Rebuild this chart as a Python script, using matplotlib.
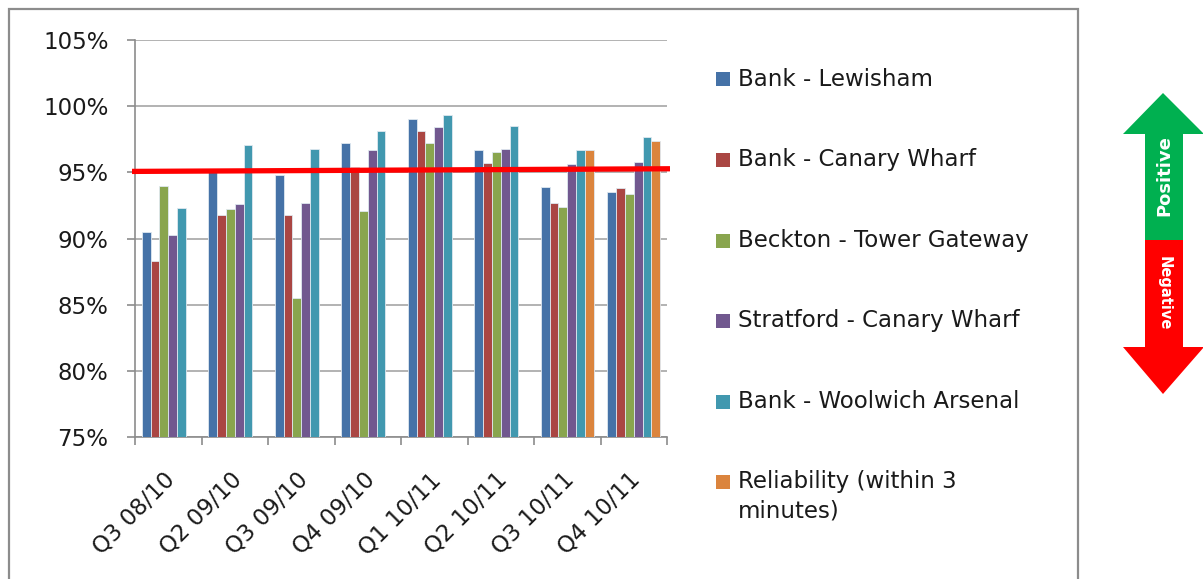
import numpy as np
import matplotlib
matplotlib.use("Agg")
import matplotlib.pyplot as plt
import matplotlib.transforms as mtransforms
from matplotlib.patches import Rectangle, Polygon
from matplotlib.ticker import FuncFormatter

QUARTERS = ["Q3 08/10", "Q2 09/10", "Q3 09/10", "Q4 09/10",
            "Q1 10/11", "Q2 10/11", "Q3 10/11", "Q4 10/11"]

BANK_LEWISHAM   = [90.5, 95.0, 94.8, 97.2, 99.0, 96.7, 93.9, 93.5]
BANK_CANARY     = [88.3, 91.8, 91.8, 95.4, 98.1, 95.7, 92.7, 93.8]
BECKTON_TOWER   = [94.0, 92.2, 85.5, 92.1, 97.2, 96.5, 92.4, 93.4]
STRATFORD_CW    = [90.3, 92.6, 92.7, 96.7, 98.4, 96.8, 95.6, 95.8]
BANK_WOOLWICH   = [92.3, 97.1, 96.8, 98.1, 99.3, 98.5, 96.7, 97.7]
RELIABILITY     = [np.nan] * 6 + [96.7, 97.4]

SERIES_NAMES = ["Bank - Lewisham", "Bank - Canary Wharf", "Beckton - Tower Gateway",
                "Stratford - Canary Wharf", "Bank - Woolwich Arsenal",
                "Reliability (within 3\nminutes)"]
COLORS = ["#4572A7", "#AA4643", "#89A54E", "#71588F", "#4198AF", "#DB843D"]

TARGET_LINE = [95.07, 95.27]   # hand-drawn target line, left end / right end

W, H = 1203, 579
fig = plt.figure(figsize=(W / 100, H / 100), dpi=100)
fig.patch.set_facecolor("white")

def fx(px):
    return px / W

def fy(py):
    return 1 - py / H

ax = fig.add_axes([fx(135), fy(437), fx(667) - fx(135), fy(40) - fy(437)])

series = [BANK_LEWISHAM, BANK_CANARY, BECKTON_TOWER, STRATFORD_CW, BANK_WOOLWICH, RELIABILITY]
x = np.arange(len(QUARTERS))
n = len(series)
bw = 0.8 / n
for i, (vals, col) in enumerate(zip(series, COLORS)):
    ax.bar(x + (i - (n - 1) / 2) * bw, vals, width=bw, color=col,
           edgecolor="#dfe8f0", linewidth=0.6, zorder=3)

# target line across the plot
ax.plot([-0.545, 7.545], TARGET_LINE, color="#ff0000", lw=3.8,
        solid_capstyle="butt", zorder=5, clip_on=False)

ax.set_xlim(-0.5, len(QUARTERS) - 0.5)
ax.set_ylim(75, 105)
ax.set_yticks(np.arange(75, 106, 5))
ax.yaxis.set_major_formatter(FuncFormatter(lambda v, _: f"{v:.0f}%"))
ax.yaxis.grid(True, color="#a6a6a6", lw=1.2, zorder=0)

ax.set_xticks(x)
ax.set_xticklabels(QUARTERS, rotation=45, ha="right", rotation_mode="anchor")
ax.set_xticks(np.arange(-0.5, len(QUARTERS)), minor=True)
ax.tick_params(axis="x", which="major", length=0, pad=16, labelsize=16.5,
               labelcolor="#1a1a1a")
ax.tick_params(axis="x", which="minor", length=6, width=1.2, color="#8c8c8c",
               direction="out")
ax.tick_params(axis="y", length=6, width=1.2, color="#8c8c8c", pad=13,
               labelsize=16.5, labelcolor="#1a1a1a")

# nudge the slanted labels down/left a little
shift = mtransforms.ScaledTranslation(-5 / 100, -9 / 100, fig.dpi_scale_trans)
for lab in ax.get_xticklabels():
    lab.set_transform(lab.get_transform() + shift)

for side in ["top", "right"]:
    ax.spines[side].set_visible(False)
for side in ["left", "bottom"]:
    ax.spines[side].set_color("#8c8c8c")
    ax.spines[side].set_linewidth(1.2)

# legend, drawn by hand
leg_y = [79, 160, 241, 321, 402, 482]
for name, col, yy in zip(SERIES_NAMES, COLORS, leg_y):
    fig.add_artist(Rectangle((fx(716), fy(yy + 7)), fx(14), 14 / H,
                             facecolor=col, edgecolor="none"))
    if "\n" in name:
        fig.text(fx(738), fy(yy - 12), name, ha="left", va="top",
                 fontsize=16.5, color="#1a1a1a", linespacing=1.35)
    else:
        fig.text(fx(738), fy(yy), name, ha="left", va="center",
                 fontsize=16.5, color="#1a1a1a")

# chart frame
fig.add_artist(Rectangle((fx(9), fy(600)), fx(1078) - fx(9), (600 - 9) / H,
                         facecolor="none", edgecolor="#8c8c8c", lw=1.6,
                         clip_on=False))

# positive / negative arrow
up = [(1145, 240), (1145, 134), (1123, 134), (1163, 93), (1204, 134),
      (1183, 134), (1183, 240)]
down = [(1145, 240), (1145, 347), (1123, 347), (1163, 394), (1204, 347),
        (1183, 347), (1183, 240)]
fig.add_artist(Polygon([(fx(a), fy(b)) for a, b in up], closed=True,
                       facecolor="#00b050", edgecolor="none"))
fig.add_artist(Polygon([(fx(a), fy(b)) for a, b in down], closed=True,
                       facecolor="#ff0000", edgecolor="none"))
fig.text(fx(1164), fy(176), "Positive", rotation=90, ha="center", va="center",
         color="white", fontsize=13, fontweight="bold")
fig.text(fx(1164), fy(293), "Negative", rotation=270, ha="center", va="center",
         color="white", fontsize=10.5, fontweight="bold")

fig.savefig("out.png", dpi=100)
